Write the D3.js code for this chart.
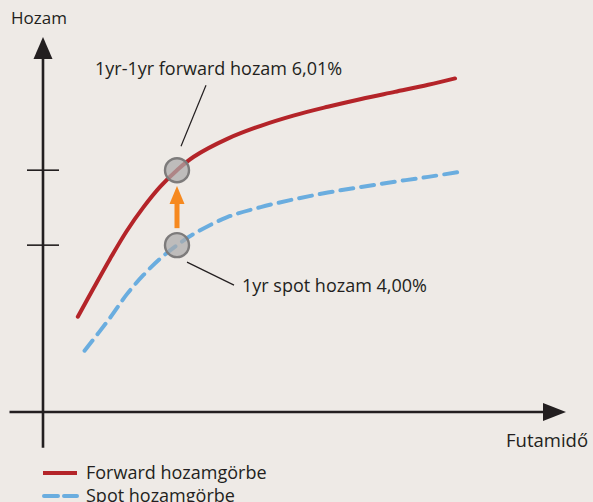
<!doctype html>
<html lang="hu">
<head>
<meta charset="utf-8">
<title>Forward hozamgörbe</title>
<style>
  html, body { margin: 0; padding: 0; background: #eeeae6; }
  svg { display: block; }
  text { font-family: "Open Sans", "Noto Sans", sans-serif; fill: #231f20; }
</style>
</head>
<body>
<div id="chart"></div>
<script src="https://cdn.jsdelivr.net/npm/d3@7"></script>
<script>
// curves: maturity in years, yield in %
const forwardMaturity = [0.26, 0.375, 0.5, 0.625, 0.75, 0.875, 1.0, 1.125, 1.375, 1.625, 1.875, 2.125, 2.375, 2.625, 2.875, 3.075];
const forwardYield    = [2.08, 2.83, 3.63, 4.38, 5.02, 5.57, 6.01, 6.37, 6.85, 7.20, 7.48, 7.71, 7.92, 8.11, 8.30, 8.47];

const spotMaturity = [0.31, 0.5, 0.625, 0.75, 0.875, 1.0, 1.125, 1.375, 1.625, 1.875, 2.125, 2.375, 2.625, 2.875, 3.1];
const spotYield    = [1.17, 2.05, 2.68, 3.20, 3.64, 4.00, 4.30, 4.75, 5.02, 5.23, 5.41, 5.56, 5.70, 5.83, 5.96];

// the two highlighted points
const markMaturity = 1;
const spotMark = 4.00;
const forwardMark = 6.01;
const tickValues = [spotMark, forwardMark];

const labels = {
  y: "Hozam",
  x: "Futamidő",
  forward: "1yr-1yr forward hozam 6,01%",
  spot: "1yr spot hozam 4,00%"
};
const legendNames = ["Forward hozamgörbe", "Spot hozamgörbe"];

const width = 593;
const height = 502;

const svg = d3.select("#chart").append("svg")
    .attr("width", width)
    .attr("height", height)
    .attr("viewBox", "0 0 " + width + " " + height);

svg.append("rect").attr("width", width).attr("height", height).attr("fill", "#eeeae6");

const x = d3.scaleLinear().domain([0, 1]).range([43, 177]);
const y = d3.scaleLinear().domain([-0.5, 9.5]).range([413, 40]);

const ink = "#231f20";
const red = "#b42429";
const blue = "#6aaddf";

// axes (drawn as arrows, no numbers)
const x0 = x(0), yAxisPos = 412;
svg.append("line")
    .attr("x1", x0).attr("x2", x0)
    .attr("y1", y(-1.43)).attr("y2", 56)
    .attr("stroke", ink).attr("stroke-width", 2.6);
svg.append("path")
    .attr("d", "M" + x0 + ",37 L" + (x0 + 9.5) + ",59 L" + (x0 - 9.5) + ",59 Z")
    .attr("fill", ink);

svg.append("line")
    .attr("x1", x(-0.25)).attr("x2", 548)
    .attr("y1", yAxisPos).attr("y2", yAxisPos)
    .attr("stroke", ink).attr("stroke-width", 2.6);
svg.append("path")
    .attr("d", "M566," + yAxisPos + " L543," + (yAxisPos - 9) + " L543," + (yAxisPos + 9) + " Z")
    .attr("fill", ink);

svg.selectAll("line.tick")
    .data(tickValues)
    .enter().append("line")
    .attr("class", "tick")
    .attr("x1", x0 - 16).attr("x2", x0 + 16)
    .attr("y1", d => y(d)).attr("y2", d => y(d))
    .attr("stroke", ink).attr("stroke-width", 1.6);

svg.append("text").attr("x", 11).attr("y", 24)
    .style("font-size", "17px").text(labels.y);
svg.append("text").attr("x", 506).attr("y", 447)
    .style("font-size", "18.5px").text(labels.x);

// curves
const line = d3.line()
    .x(d => x(d[0]))
    .y(d => y(d[1]))
    .curve(d3.curveCatmullRom.alpha(0.5));

const forwardData = forwardMaturity.map((m, i) => [m, forwardYield[i]]);
const spotData = spotMaturity.map((m, i) => [m, spotYield[i]]);

svg.append("path")
    .datum(spotData)
    .attr("d", line)
    .attr("fill", "none")
    .attr("stroke", blue)
    .attr("stroke-width", 4)
    .attr("stroke-linecap", "round")
    .attr("stroke-dasharray", "13,8");

svg.append("path")
    .datum(forwardData)
    .attr("d", line)
    .attr("fill", "none")
    .attr("stroke", red)
    .attr("stroke-width", 4)
    .attr("stroke-linecap", "round");

// orange arrow from spot to forward
const ax = x(markMaturity);
svg.append("line")
    .attr("x1", ax).attr("x2", ax)
    .attr("y1", y(spotMark) - 17).attr("y2", 202)
    .attr("stroke", "#f6891f").attr("stroke-width", 5);
svg.append("path")
    .attr("d", "M" + ax + "," + 186 + " L" + (ax + 7.5) + ",204 L" + (ax - 7.5) + ",204 Z")
    .attr("fill", "#f6891f");

// highlighted points
svg.selectAll("circle.mark")
    .data([spotMark, forwardMark])
    .enter().append("circle")
    .attr("class", "mark")
    .attr("cx", ax)
    .attr("cy", d => y(d))
    .attr("r", 12)
    .attr("fill", "#acabab")
    .attr("fill-opacity", 0.72)
    .attr("stroke", "#7d7b7b")
    .attr("stroke-width", 2.4);

// annotation leaders
svg.append("line")
    .attr("x1", ax + 4).attr("y1", y(forwardMark) - 24)
    .attr("x2", ax + 29).attr("y2", y(forwardMark) - 85)
    .attr("stroke", ink).attr("stroke-width", 1.2);
svg.append("line")
    .attr("x1", ax + 10).attr("y1", y(spotMark) + 17)
    .attr("x2", ax + 57).attr("y2", y(spotMark) + 40)
    .attr("stroke", ink).attr("stroke-width", 1.2);

svg.append("text").attr("x", 95).attr("y", 75)
    .style("font-size", "18px").text(labels.forward);
svg.append("text").attr("x", 242).attr("y", 292)
    .style("font-size", "18px").text(labels.spot);

// legend
const legend = svg.selectAll("g.legend")
    .data(legendNames)
    .enter().append("g")
    .attr("class", "legend")
    .attr("transform", (d, i) => "translate(0," + (473 + i * 23) + ")");

legend.append("line")
    .attr("x1", (d, i) => i ? 44 : 43)
    .attr("x2", 77)
    .attr("y1", 0).attr("y2", 0)
    .attr("stroke", (d, i) => i ? blue : red)
    .attr("stroke-width", 4)
    .attr("stroke-linecap", (d, i) => i ? "round" : "butt")
    .attr("stroke-dasharray", (d, i) => i ? "14,6" : null);

legend.append("text")
    .attr("x", 86).attr("y", 5.5)
    .style("font-size", "18px")
    .text(d => d);
</script>
</body>
</html>
